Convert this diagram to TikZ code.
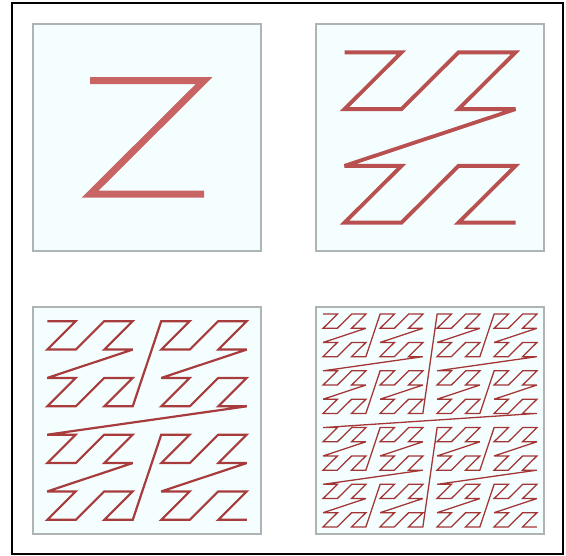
\documentclass[tikz,border=0pt]{standalone}
\definecolor{panelfill}{HTML}{F4FEFF}
\definecolor{panelline}{HTML}{AEB4B4}
\tikzset{
  panel/.style={draw=panelline, fill=panelfill, line width=1.5pt},
  frame/.style={draw=black, line width=2pt}
}

\begin{document}
\begin{tikzpicture}[x=1pt,y=-1pt]
  \useasboundingbox (0,0) rectangle (566,556);
  \draw[frame] (12,3) rectangle (563,554);

  % one panel per level of the curve
  \foreach \ox/\oy/\n/\lw/\col in {33/24/1/7/C86464, 316/24/2/3.8/B85050,
      33/307/3/2.2/A83C3C, 316/307/4/1.3/A33535} {
    \draw[panel] (\ox,\oy) rectangle ++(228,227);
    \pgfmathtruncatemacro\last{4^\n-1}
    \pgfmathsetmacro\cw{228/2^\n}
    \pgfmathsetmacro\ch{227/2^\n}
    \definecolor{zc}{HTML}{\col}
    \draw[zc, line width=\lw pt, miter limit=3] ({\ox+\cw/2}, {\oy+\ch/2})
      \foreach \i in {1,...,\last} {
        -- ({\ox+\cw*(0.5+mod(\i,2)+2*mod(int(\i/4),2)+4*mod(int(\i/16),2)+8*mod(int(\i/64),2))},
            {\oy+\ch*(0.5+mod(int(\i/2),2)+2*mod(int(\i/8),2)+4*mod(int(\i/32),2)+8*mod(int(\i/128),2))})
      };
  }
\end{tikzpicture}
\end{document}
